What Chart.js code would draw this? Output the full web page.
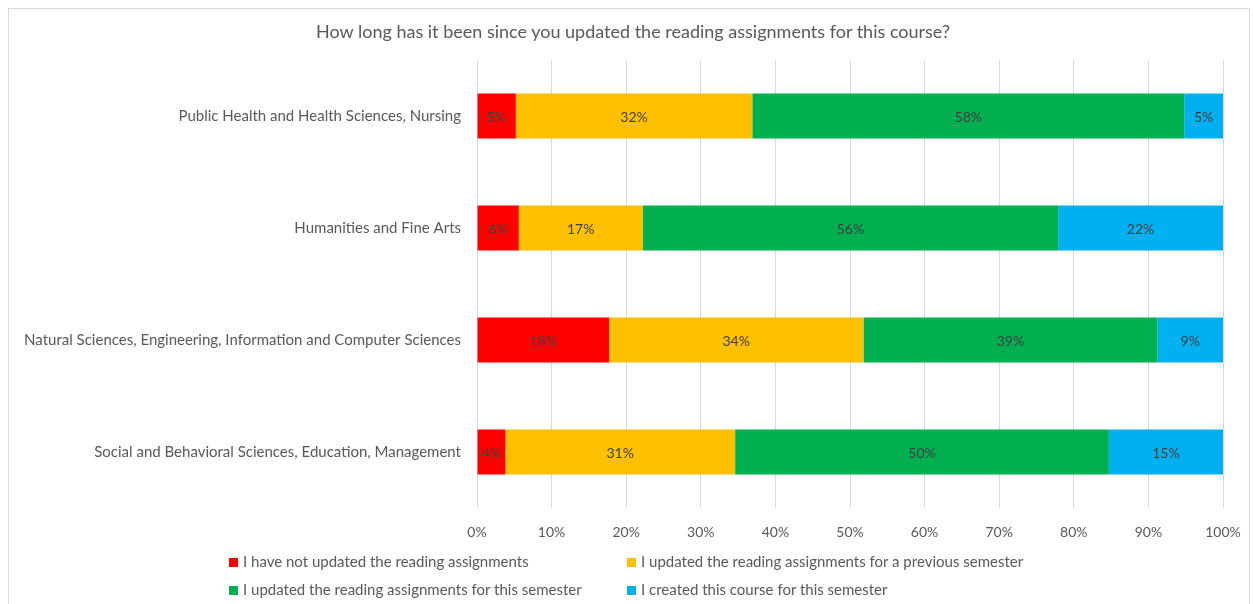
<!DOCTYPE html>
<html>
<head>
<meta charset="utf-8">
<script src="https://cdn.jsdelivr.net/npm/chart.js@4"></script>
<style>
    html, body { margin: 0; padding: 0; background: #fff; }
    #wrap { position: relative; width: 1253px; height: 604px; overflow: hidden; }
    #frame { position: absolute; left: 8px; top: 8px; width: 1240px; height: 620px; border: 1px solid #d9d9d9; }
    #chart { position: absolute; left: 0; top: 0; }
    #title { position: absolute; left: 0; top: 20px; width: 1266px; text-align: center; font: 18px Lato, sans-serif; color: #595959; line-height: 22px; white-space: nowrap; }
    .legend-item { position: absolute; font: 15px Lato, sans-serif; color: #595959; white-space: nowrap; line-height: 16px; }
    .legend-item span { display: inline-block; width: 9px; height: 9px; margin-right: 5px; vertical-align: 0px; }
</style>
</head>
<body>
<div id="wrap">
    <div id="frame"></div>
    <canvas id="chart" width="1253" height="604"></canvas>
    <div id="title"></div>
</div>
<script>
    // --- Data ---
    const chartTitle = 'How long has it been since you updated the reading assignments for this course?';
    const categories = [
        'Public Health and Health Sciences, Nursing',
        'Humanities and Fine Arts',
        'Natural Sciences, Engineering, Information and Computer Sciences',
        'Social and Behavioral Sciences, Education, Management'
    ];
    const seriesNames = [
        'I have not updated the reading assignments',
        'I updated the reading assignments for a previous semester',
        'I updated the reading assignments for this semester',
        'I created this course for this semester'
    ];
    const notUpdated = [5.2, 5.6, 17.7, 3.8];
    const previousSemester = [31.7, 16.6, 34.1, 30.8];
    const thisSemester = [57.9, 55.7, 39.4, 50.1];
    const createdCourse = [5.2, 22.1, 8.8, 15.3];
    const seriesColors = ['#ff0000', '#ffc000', '#00b050', '#00b0f0'];
    const xTicks = [0, 10, 20, 30, 40, 50, 60, 70, 80, 90, 100];

    const seriesValues = [notUpdated, previousSemester, thisSemester, createdCourse];

    document.getElementById('title').textContent = chartTitle;

    // --- Bar value labels ---
    const barLabels = {
        id: 'barLabels',
        afterDatasetsDraw(chart) {
            const ctx = chart.ctx;
            ctx.save();
            ctx.font = '14px Lato, sans-serif';
            ctx.fillStyle = '#404040';
            ctx.textAlign = 'center';
            ctx.textBaseline = 'middle';
            chart.data.datasets.forEach((ds, i) => {
                chart.getDatasetMeta(i).data.forEach((bar, j) => {
                    const cx = (bar.x + bar.base) / 2;
                    ctx.fillText(Math.round(ds.data[j]) + '%', cx, bar.y + 1);
                });
            });
            ctx.restore();
        }
    };

    const chart = new Chart(document.getElementById('chart').getContext('2d'), {
        type: 'bar',
        data: {
            labels: categories,
            datasets: seriesNames.map((name, i) => ({
                label: name,
                data: seriesValues[i],
                backgroundColor: seriesColors[i],
                borderWidth: 0,
                barPercentage: 0.4,
                categoryPercentage: 1.0
            }))
        },
        options: {
            indexAxis: 'y',
            responsive: false,
            animation: false,
            layout: { padding: { left: 0, right: 30, top: 60, bottom: 56 } },
            plugins: {
                legend: { display: false },
                tooltip: { enabled: false },
                title: { display: false }
            },
            scales: {
                x: {
                    stacked: true,
                    min: 0,
                    max: 100,
                    afterBuildTicks: (scale) => { scale.ticks = xTicks.map(v => ({ value: v })); },
                    afterFit: (scale) => {
                        scale.height = 40;
                        scale.paddingLeft = 0;
                        scale.paddingRight = 0;
                    },
                    ticks: {
                        padding: 16,
                        color: '#595959',
                        font: { family: 'Lato, sans-serif', size: 14 },
                        callback: (v) => v + '%'
                    },
                    grid: { color: '#d9d9d9', drawTicks: false },
                    border: { display: false }
                },
                y: {
                    stacked: true,
                    afterFit: (scale) => { scale.width = 477; },
                    ticks: {
                        padding: 16,
                        color: '#595959',
                        font: { family: 'Lato, sans-serif', size: 15 }
                    },
                    grid: { display: false, drawTicks: false },
                    border: { display: false }
                }
            }
        },
        plugins: [barLabels]
    });

    // --- Legend (two columns, built from the chart's datasets) ---
    const legendSpots = [[229, 553], [627, 553], [229, 581], [627, 581]];
    chart.data.datasets.forEach((ds, i) => {
        const item = document.createElement('div');
        item.className = 'legend-item';
        item.style.left = legendSpots[i][0] + 'px';
        item.style.top = legendSpots[i][1] + 'px';
        item.innerHTML = `<span style="background:${ds.backgroundColor}"></span>${ds.label}`;
        document.getElementById('wrap').appendChild(item);
    });
</script>
</body>
</html>
